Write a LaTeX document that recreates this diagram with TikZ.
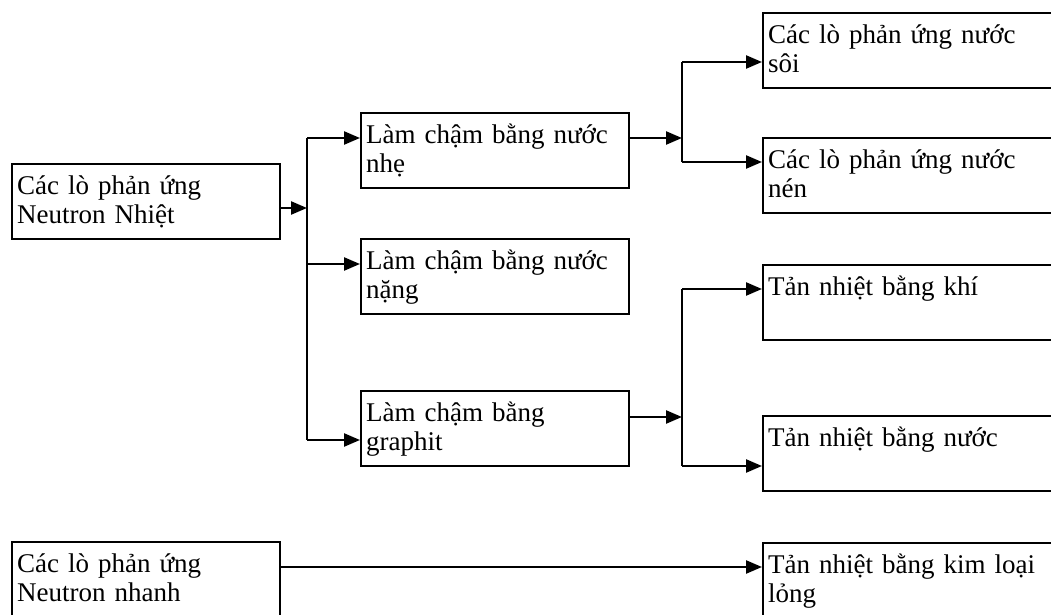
\documentclass[tikz,border=0pt]{standalone}
\usepackage{fontspec}
\setmainfont{Liberation Serif}
\usetikzlibrary{arrows.meta}
\tikzset{
  box/.style={draw,line width=1.1pt,anchor=north west,inner xsep=2.5pt,inner ysep=0pt,
    text width=129pt,align=left,text height=15pt,text depth=22.5pt,
    font=\fontsize{13.5}{14.75}\selectfont},
  widebox/.style={box,text width=200pt},
  arr/.style={line width=1.2pt,-{Triangle[length=8pt,width=6.5pt]}}
}
\begin{document}
\begin{tikzpicture}[x=0.5pt,y=-0.5pt]
  \useasboundingbox (0,0) rectangle (1051,615);
  \clip (0,0) rectangle (1051,615);
  \node[box] (nhiet) at (11,163) {Các lò phản ứng\\Neutron Nhiệt};
  \node[box] (nhe) at (360,112) {Làm chậm bằng nước\\nhẹ};
  \node[box] (nang) at (360,238) {Làm chậm bằng nước\\nặng};
  \node[box] (graphit) at (360,390) {Làm chậm bằng\\graphit};
  \node[widebox] (soi) at (762,12) {Các lò phản ứng nước\\sôi};
  \node[widebox] (nen) at (762,137) {Các lò phản ứng nước\\nén};
  \node[widebox] (khi) at (762,264) {Tản nhiệt bằng khí};
  \node[widebox] (nuoc) at (762,415) {Tản nhiệt bằng nước};
  \node[box,text depth=35pt] (nhanh) at (11,541) {Các lò phản ứng\\Neutron nhanh};
  \node[widebox,text depth=35pt] (kimloai) at (762,542) {Tản nhiệt bằng kim loại\\lỏng};
  \coordinate (j1) at (307,208);
  \coordinate (t1) at (307,138);
  \coordinate (t2) at (307,264);
  \coordinate (t3) at (307,440);
  \coordinate (k1) at (682,138);
  \coordinate (u1) at (682,62);
  \coordinate (u2) at (682,162);
  \coordinate (k2) at (682,417);
  \coordinate (v1) at (682,289);
  \coordinate (v2) at (682,466);
  \coordinate (m) at (0,567);
  \draw[arr] (j1 -| nhiet.east)--(j1);
  \draw[line width=1.2pt] (t1)--(t3);
  \draw[arr] (t1)--(t1 -| nhe.west);
  \draw[arr] (t2)--(t2 -| nang.west);
  \draw[arr] (t3)--(t3 -| graphit.west);
  \draw[arr] (k1 -| nhe.east)--(k1);
  \draw[line width=1.2pt] (u1)--(u2);
  \draw[arr] (u1)--(u1 -| soi.west);
  \draw[arr] (u2)--(u2 -| nen.west);
  \draw[arr] (k2 -| graphit.east)--(k2);
  \draw[line width=1.2pt] (v1)--(v2);
  \draw[arr] (v1)--(v1 -| khi.west);
  \draw[arr] (v2)--(v2 -| nuoc.west);
  \draw[arr] (m -| nhanh.east)--(m -| kimloai.west);
\end{tikzpicture}
\end{document}
